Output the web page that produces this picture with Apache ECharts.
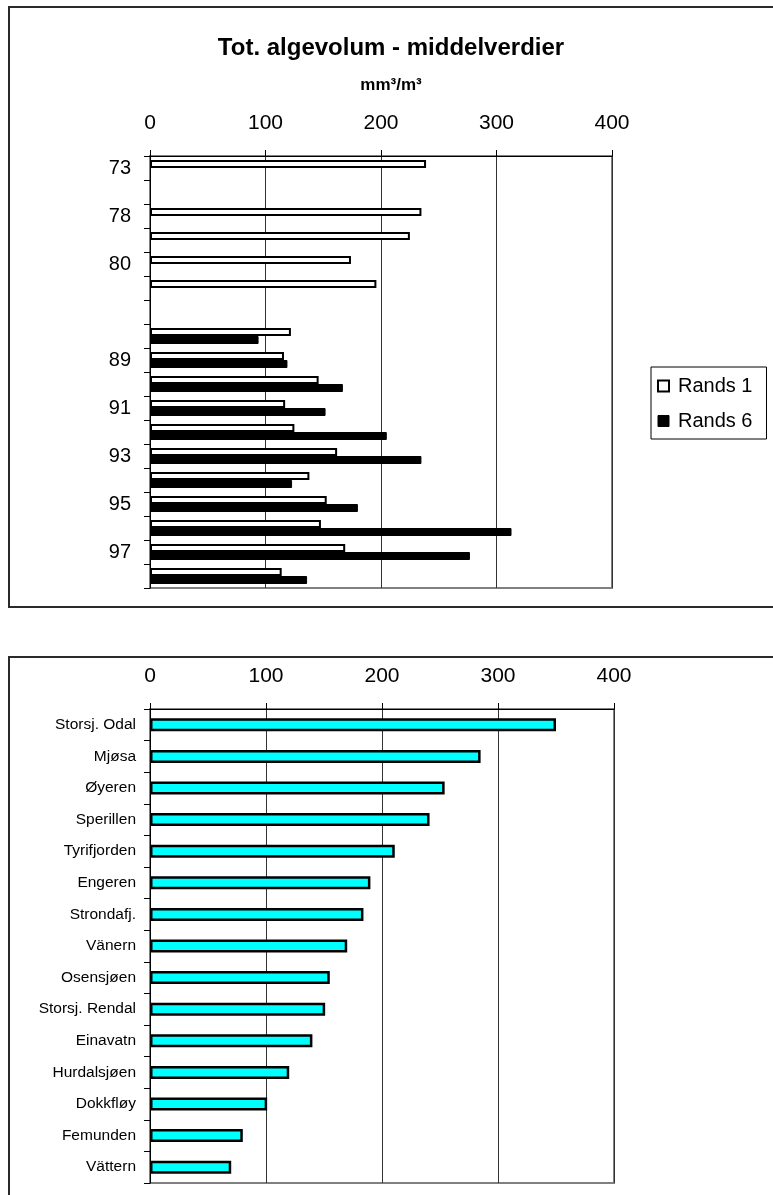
<!DOCTYPE html>
<html>
<head>
<meta charset="utf-8">
<title>Tot. algevolum - middelverdier</title>
<script src="https://cdn.jsdelivr.net/npm/echarts@6/dist/echarts.min.js"></script>
<style>
  html, body { margin: 0; padding: 0; background: #fff; }
  #chart { width: 773px; height: 1195px; }
</style>
</head>
<body>
<div id="chart"></div>
<script>
// Years (only every second label is printed on the axis)
const years = ['73', ' ', '78', '79', '80', '81', '  ', '88', '89', '90', '91', '92', '93', '94', '95', '96', '97', '98'];
// Mean total algal volume, mm³/m³
const rands1 = [239, null, 235, 225, 174, 196, null, 122, 116, 146, 117, 125, 162, 138, 153, 148, 169, 114];
const rands6 = [null, null, null, null, null, null, null, 94, 119, 167, 152, 205, 235, 123, 180, 313, 277, 136];

// Lake comparison
const lakes = ['Storsj. Odal', 'Mjøsa', 'Øyeren', 'Sperillen', 'Tyrifjorden', 'Engeren', 'Strondafj.', 'Vänern',
  'Osensjøen', 'Storsj. Rendal', 'Einavatn', 'Hurdalsjøen', 'Dokkfløy', 'Femunden', 'Vättern'];
const lakeValues = [350, 285, 254, 241, 211, 190, 184, 170, 155, 151, 140, 120, 101, 80, 70];

const valueTicks = { min: 0, max: 400, interval: 100 };

const FONT = 'Liberation Sans, Arial, sans-serif';

function valueAxis(gridIndex) {
  return {
    type: 'value', gridIndex, position: 'top',
    min: valueTicks.min, max: valueTicks.max, interval: valueTicks.interval,
    axisLine: { show: true, lineStyle: { color: '#000', width: 1 } },
    axisTick: { show: true, inside: false, length: 6, lineStyle: { color: '#000' } },
    axisLabel: { color: '#000', fontSize: 21, fontFamily: FONT, margin: 22 },
    splitLine: { show: true, lineStyle: { color: '#333', width: 1 } }
  };
}

function categoryAxis(gridIndex, data, fontSize, interval, margin) {
  return {
    type: 'category', gridIndex, data, inverse: true,
    axisLine: { show: true, lineStyle: { color: '#000', width: 1 } },
    axisTick: { show: true, length: 6, alignWithLabel: false, interval: 0, lineStyle: { color: '#000' } },
    axisLabel: { color: '#000', fontSize, fontFamily: FONT, interval, margin }
  };
}

const chart = echarts.init(document.getElementById('chart'), null, { renderer: 'canvas' });

chart.setOption({
  animation: false,
  backgroundColor: '#fff',
  graphic: [
    { type: 'rect', shape: { x: 9, y: 7, width: 800, height: 600 }, style: { fill: 'none', stroke: '#2a2a2a', lineWidth: 2 }, z: -1 },
    { type: 'rect', shape: { x: 9, y: 657, width: 800, height: 600 }, style: { fill: 'none', stroke: '#2a2a2a', lineWidth: 2 }, z: -1 }
  ],
  title: [
    { text: 'Tot. algevolum - middelverdier', left: 386, top: 31, textAlign: 'center',
      textStyle: { fontFamily: FONT, fontWeight: 'bold', fontSize: 24, color: '#000' } },
    { text: 'mm³/m³', left: 386, top: 72, textAlign: 'center',
      textStyle: { fontFamily: FONT, fontWeight: 'bold', fontSize: 17, color: '#000' } }
  ],
  legend: {
    data: [
      { name: 'Rands 1', itemStyle: { color: '#fff', borderColor: '#000', borderWidth: 2 } },
      { name: 'Rands 6', itemStyle: { color: '#000', borderColor: '#000', borderWidth: 1 } }
    ],
    orient: 'vertical', left: 651, top: 367,
    icon: 'rect', itemWidth: 11, itemHeight: 11, itemGap: 15,
    padding: [9, 14, 8, 6],
    borderColor: '#000', borderWidth: 1, backgroundColor: '#fff',
    textStyle: { color: '#000', fontSize: 20, fontFamily: FONT, padding: [0, 0, 0, 4] },
    selectedMode: false
  },
  grid: [
    { left: 150, top: 156, width: 462, height: 432, show: true, borderColor: '#808080', borderWidth: 2, backgroundColor: 'transparent' },
    { left: 150, top: 709, width: 464, height: 474, show: true, borderColor: '#808080', borderWidth: 2, backgroundColor: 'transparent' }
  ],
  xAxis: [valueAxis(0), valueAxis(1)],
  yAxis: [
    categoryAxis(0, years, 20, 1, 19),
    categoryAxis(1, lakes, 15.5, 0, 14)
  ],
  series: [
    { name: 'Rands 1', type: 'bar', xAxisIndex: 0, yAxisIndex: 0, data: rands1,
      barWidth: 8, barGap: '0%',
      itemStyle: { color: '#fff', borderColor: '#000', borderWidth: 2 } },
    { name: 'Rands 6', type: 'bar', xAxisIndex: 0, yAxisIndex: 0, data: rands6,
      barWidth: 8, barGap: '0%',
      itemStyle: { color: '#000', borderColor: '#000', borderWidth: 1 } },
    { name: 'Innsjøer', type: 'bar', xAxisIndex: 1, yAxisIndex: 1, data: lakeValues,
      barWidth: 13,
      itemStyle: { color: '#00ffff', borderColor: '#000', borderWidth: 2.5 } }
  ]
});
</script>
</body>
</html>
